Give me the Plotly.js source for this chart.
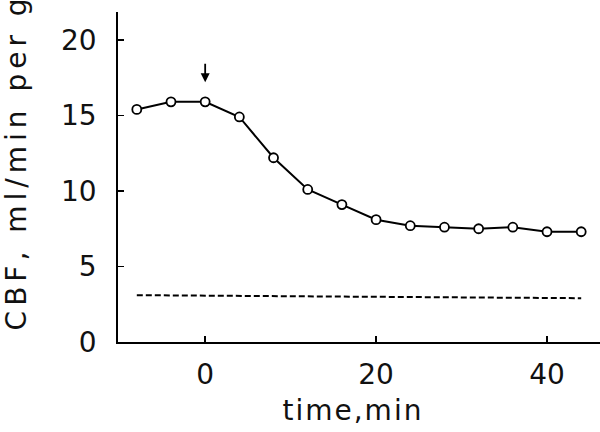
<!DOCTYPE html>
<html>
<head>
<meta charset="utf-8">
<script src="https://cdn.plot.ly/plotly-3.0.1.min.js"></script>
<style>
  body { margin: 0; background: #fff; }
  #plot-div { width: 600px; height: 432px; }
  .ytitle { letter-spacing: 5px; }
  .xtitle { letter-spacing: 2px; }
</style>
</head>
<body>
<div id="plot-div"></div>
<script>
// CBF time course
var times = [-8, -4, 0, 4, 8, 12, 16, 20, 24, 28, 32, 36, 40, 44];
var cbf = [15.4, 15.9, 15.9, 14.9, 12.2, 10.1, 9.1, 8.1, 7.7, 7.6, 7.5, 7.6, 7.3, 7.3];

// dashed baseline level
var baseTimes = [-8, 44];
var baseCbf = [3.1, 2.9];

var xTicks = [0, 20, 40];
var yTicks = [0, 5, 10, 15, 20];

var font = { family: "DejaVu Sans", size: 28, color: "#111" };
// invisible padding used to nudge the centred titles
var pad = '<span style="color:rgba(0,0,0,0)">--</span>';
var padX = '<span style="color:rgba(0,0,0,0)">-</span>';

var curve = {
  x: times,
  y: cbf,
  mode: "lines+markers",
  type: "scatter",
  line: { color: "#000", width: 2 },
  marker: { symbol: "circle", size: 9, color: "#fff", line: { color: "#000", width: 1.8 } },
  hoverinfo: "skip"
};

var baseline = {
  x: baseTimes,
  y: baseCbf,
  mode: "lines",
  type: "scatter",
  line: { color: "#000", width: 2, dash: "6px,3px" },
  hoverinfo: "skip"
};

var layout = {
  width: 600,
  height: 432,
  margin: { l: 118, r: 0, t: 12, b: 90 },
  paper_bgcolor: "#fff",
  plot_bgcolor: "#fff",
  showlegend: false,
  font: font,
  xaxis: {
    range: [-10.2, 46.2],
    tickvals: xTicks,
    ticks: "inside",
    ticklen: 6,
    tickwidth: 1.5,
    tickcolor: "#000",
    showline: true,
    linecolor: "#000",
    linewidth: 1.8,
    showgrid: false,
    zeroline: false,
    ticklabelstandoff: 7,
    automargin: true,
    title: { text: "time,min" + padX, font: font, standoff: 10 }
  },
  yaxis: {
    range: [0, 21.85],
    tickvals: yTicks,
    ticks: "inside",
    ticklen: 6,
    tickwidth: 1.5,
    tickcolor: "#000",
    showline: true,
    linecolor: "#000",
    linewidth: 1.8,
    showgrid: false,
    zeroline: false,
    ticklabelstandoff: 14,
    automargin: true,
    title: { text: pad + "CBF, ml/min per g", font: font, standoff: 27 }
  },
  annotations: [{
    x: 0,
    y: 17.2,
    xref: "x",
    yref: "y",
    text: "",
    showarrow: true,
    arrowhead: 2,
    arrowsize: 1,
    arrowwidth: 1.8,
    arrowcolor: "#000",
    ax: 0,
    ay: -20
  }]
};

Plotly.newPlot("plot-div", [baseline, curve], layout, { staticPlot: true });
</script>
</body>
</html>
